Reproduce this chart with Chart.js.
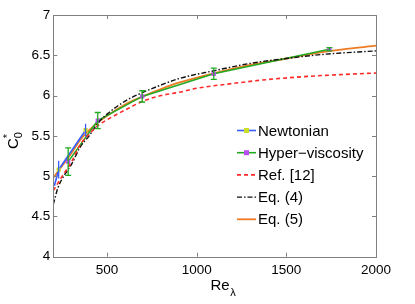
<!DOCTYPE html>
<html>
<head>
<meta charset="utf-8">
<script src="https://cdn.jsdelivr.net/npm/chart.js@4"></script>
<style>
  html, body { margin: 0; padding: 0; background: #fff; }
  #wrap { width: 415px; height: 304px; position: relative; }
</style>
</head>
<body>
<div id="wrap"><canvas id="c"></canvas></div>
<script>
// data
const newtRe = [206, 230, 380];
const newtC = [4.88, 5.08, 5.57];
const newtErr = [null, 0.11, 0.08];

const hyperRe = [283, 448, 696, 1095, 1740];
const hyperC = [5.18, 5.69, 5.99, 6.27, 6.575];
const hyperErr = [0.17, 0.10, 0.07, 0.07, 0.02];

const refRe = [200, 250, 300, 350, 400, 450, 500, 600, 700, 800, 900, 1000, 1200, 1400, 1600, 1800, 2000];
const refC = [4.82, 5.0, 5.17, 5.39, 5.52, 5.63, 5.70, 5.82, 5.93, 6.0, 6.04, 6.09, 6.15, 6.2, 6.235, 6.26, 6.28];

const eq4Re = [200, 225, 250, 300, 350, 400, 450, 500, 600, 700, 800, 900, 1100, 1300, 1500, 1700, 2000];
const eq4C = [4.65, 4.85, 4.97, 5.14, 5.36, 5.5, 5.66, 5.77, 5.93, 6.04, 6.13, 6.21, 6.31, 6.40, 6.46, 6.51, 6.555];

const eq5Re = [200, 250, 300, 350, 400, 450, 500, 600, 700, 800, 900, 1100, 1300, 1500, 1700, 2000];
const eq5C = [4.98, 5.13, 5.28, 5.45, 5.57, 5.67, 5.75, 5.89, 5.99, 6.08, 6.16, 6.28, 6.38, 6.46, 6.54, 6.62];

const xTicks = [500, 1000, 1500, 2000];
const yTicks = [4, 4.5, 5, 5.5, 6, 6.5, 7];

const BLUE = '#3a5cff', GREEN = '#22aa22', RED = '#ff2a2a', BLACK = '#111111', ORANGE = '#ee7a22';
const FONT = '"Liberation Sans", Arial, sans-serif';

const pts = (xs, ys) => xs.map((x, i) => ({ x, y: ys[i] }));

const series = [
  { label: 'Newtonian', data: pts(newtRe, newtC), borderColor: BLUE, borderWidth: 1.6, dash: [],
    marker: '#c8dc28', err: newtErr, errColor: BLUE, caps: false },
  { label: 'Hyper\u2212viscosity', data: pts(hyperRe, hyperC), borderColor: GREEN, borderWidth: 1.6, dash: [],
    marker: '#b84ef0', err: hyperErr, errColor: GREEN, caps: true },
  { label: 'Ref. [12]', data: pts(refRe, refC), borderColor: RED, borderWidth: 1.6, dash: [4, 3] },
  { label: 'Eq. (4)', data: pts(eq4Re, eq4C), borderColor: BLACK, borderWidth: 1.4, dash: [5, 2, 1.5, 2] },
  { label: 'Eq. (5)', data: pts(eq5Re, eq5C), borderColor: ORANGE, borderWidth: 1.8, dash: [] }
];

const datasets = series.map(s => ({
  label: s.label,
  data: s.data,
  borderColor: s.borderColor,
  borderWidth: s.borderWidth,
  borderDash: s.dash,
  cubicInterpolationMode: s.marker ? 'default' : 'monotone',
  tension: s.marker ? 0 : 0.4,
  pointRadius: s.marker ? s.data.map((p, i) => (s.label === 'Newtonian' && i === 0) ? 0 : 3) : 0,
  pointStyle: 'rect',
  pointBackgroundColor: s.marker || s.borderColor,
  pointBorderWidth: 0,
  fill: false
}));
// draw fitted curves first, data on top except orange
const order = [2, 3, 0, 1, 4];
datasets.forEach((d, i) => d.order = order[i]);

const frame = {
  id: 'frame',
  afterDatasetsDraw(chart) {
    const { ctx, chartArea: a, scales: { x, y } } = chart;
    ctx.save();
    // error bars
    series.forEach(s => {
      if (!s.err) return;
      ctx.strokeStyle = s.errColor;
      ctx.lineWidth = 1.3;
      s.data.forEach((p, i) => {
        const e = s.err[i];
        if (e == null) return;
        const px = x.getPixelForValue(p.x);
        const y1 = y.getPixelForValue(p.y + e), y2 = y.getPixelForValue(p.y - e);
        ctx.beginPath();
        ctx.moveTo(px, y1); ctx.lineTo(px, y2);
        if (s.caps) {
          ctx.moveTo(px - 3, y1); ctx.lineTo(px + 3, y1);
          ctx.moveTo(px - 3, y2); ctx.lineTo(px + 3, y2);
        }
        ctx.stroke();
      });
    });
    // box and inward ticks
    ctx.strokeStyle = '#808080';
    ctx.lineWidth = 1;
    ctx.strokeRect(Math.round(a.left) + 0.5, Math.round(a.top) + 0.5,
      Math.round(a.right - a.left), Math.round(a.bottom - a.top));
    ctx.beginPath();
    xTicks.forEach(v => {
      const px = Math.round(x.getPixelForValue(v)) + 0.5;
      ctx.moveTo(px, a.bottom); ctx.lineTo(px, a.bottom - 4);
      ctx.moveTo(px, a.top); ctx.lineTo(px, a.top + 4);
    });
    yTicks.forEach(v => {
      const py = Math.round(y.getPixelForValue(v)) + 0.5;
      ctx.moveTo(a.left, py); ctx.lineTo(a.left + 4, py);
      ctx.moveTo(a.right, py); ctx.lineTo(a.right - 4, py);
    });
    ctx.stroke();

    // legend
    ctx.textBaseline = 'middle';
    ctx.font = '15px ' + FONT;
    const lx0 = 237, lx1 = 256, ys = [130.5, 152.7, 174.9, 197.1, 219.3];
    series.forEach((s, i) => {
      ctx.strokeStyle = s.borderColor;
      ctx.lineWidth = s.borderWidth;
      ctx.setLineDash(s.dash);
      ctx.beginPath();
      ctx.moveTo(lx0, ys[i]); ctx.lineTo(lx1, ys[i]);
      ctx.stroke();
      ctx.setLineDash([]);
      if (s.marker) {
        ctx.fillStyle = s.marker;
        ctx.fillRect((lx0 + lx1) / 2 - 2.5, ys[i] - 2.5, 5, 5);
      }
      ctx.fillStyle = '#000';
      ctx.fillText(s.label, 258, ys[i] + 1);
    });

    // axis titles
    ctx.fillStyle = '#000';
    ctx.textBaseline = 'alphabetic';
    ctx.font = '15px ' + FONT;
    const w = ctx.measureText('Re').width;
    ctx.fillText('Re', 210.5, 290);
    ctx.font = '11px ' + FONT;
    ctx.fillText('\u03bb', 210.5 + w + 0.5, 296);

    ctx.translate(18, 149);
    ctx.rotate(-Math.PI / 2);
    ctx.font = '15px ' + FONT;
    ctx.fillText('C', 0, 0);
    const cw = ctx.measureText('C').width;
    ctx.font = '11px ' + FONT;
    ctx.fillText('0', cw, 4);
    ctx.fillText('*', cw, -7);
    ctx.restore();
  }
};

new Chart(document.getElementById('c'), {
  type: 'line',
  data: { datasets },
  options: {
    responsive: true,
    maintainAspectRatio: false,
    animation: false,
    layout: { padding: { left: 0, right: 39, top: 15, bottom: 0 } },
    plugins: { legend: { display: false }, tooltip: { enabled: false } },
    scales: {
      x: {
        type: 'linear', min: 200, max: 2000,
        afterBuildTicks: sc => { sc.ticks = xTicks.map(v => ({ value: v })); },
        afterFit: sc => { sc.height = 47.3; },
        grid: { display: false, drawTicks: false },
        border: { display: false },
        ticks: { color: '#000', padding: 5, font: { family: FONT, size: 13.5 }, maxRotation: 0,
          callback: v => String(v) }
      },
      y: {
        type: 'linear', min: 4, max: 7,
        afterBuildTicks: sc => { sc.ticks = yTicks.map(v => ({ value: v })); },
        afterFit: sc => { sc.width = 53.3; },
        grid: { display: false, drawTicks: false },
        border: { display: false },
        ticks: { color: '#000', padding: 3, font: { family: FONT, size: 13.5 },
          callback: v => String(v) }
      }
    }
  },
  plugins: [frame]
});
</script>
</body>
</html>
